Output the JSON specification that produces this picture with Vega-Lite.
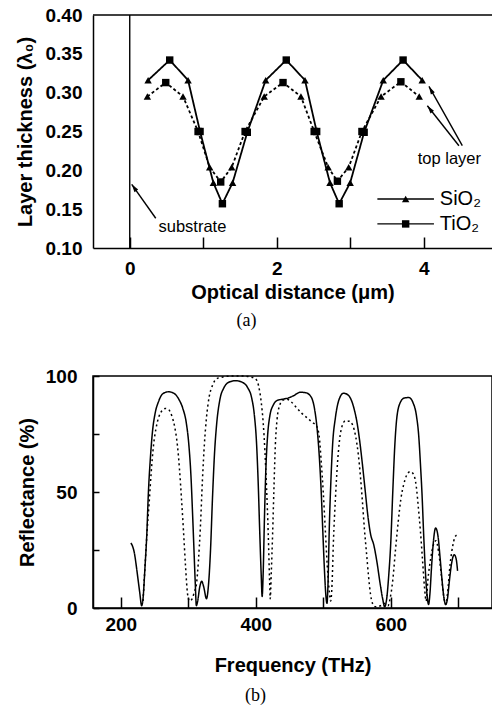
{
  "$schema": "https://vega.github.io/schema/vega-lite/v6.json",
  "padding": {"left": 15, "top": 6, "right": 0, "bottom": 0},
  "background": "white",
  "config": {
    "font": "Liberation Sans",
    "view": {"stroke": null},
    "axis": {
      "domainColor": "black", "domainWidth": 1.5, "tickColor": "black", "tickWidth": 1.5,
      "labelColor": "black", "titleColor": "black", "labelFont": "Liberation Sans", "titleFont": "Liberation Sans",
      "labelFontWeight": "bold", "titleFontWeight": "bold", "labelFontSize": 19, "titleFontSize": 20, "grid": false
    }
  },
  "columns": 1,
  "align": "none",
  "spacing": 36,
  "resolve": {"scale": {"strokeDash": "independent", "shape": "independent"}},
  "concat": [
    {
      "width": 399,
      "height": 233,
      "title": {"text": "(a)", "orient": "bottom", "font": "Liberation Serif", "fontSize": 18, "fontWeight": "normal", "color": "black", "offset": 10, "dx": -46},
      "encoding": {
        "x": {"field": "x", "type": "quantitative", "scale": {"domain": [-0.5, 4.93], "nice": false, "zero": false},
          "axis": {"title": "Optical distance (μm)", "values": [0, 1, 2, 3, 4], "labelExpr": "datum.value % 2 === 0 ? datum.label : ''", "tickSize": -11, "labelPadding": 22, "titlePadding": 4, "labelFlush": false}},
        "y": {"field": "y", "type": "quantitative", "scale": {"domain": [0.1, 0.4], "nice": false, "zero": false},
          "axis": {"title": "Layer thickness (λ₀)", "values": [0.1, 0.15, 0.2, 0.25, 0.3, 0.35, 0.4], "format": ".2f", "ticks": false, "labelPadding": 11, "titlePadding": 10}}
      },
      "layer": [
        {
          "data": {"values": [
            {"x": 0, "x2": 0, "y": 0.1, "y2": 0.4},
            {"x": -0.5, "x2": 4.93, "y": 0.4, "y2": 0.4},
            {"x": 3.37, "x2": 4.14, "y": 0.163, "y2": 0.163},
            {"x": 3.37, "x2": 4.14, "y": 0.131, "y2": 0.131},
            {"x": 0.354, "x2": 0.027, "y": 0.1383, "y2": 0.182},
            {"x": 4.526, "x2": 4.072, "y": 0.2317, "y2": 0.308},
            {"x": 4.48, "x2": 4.05, "y": 0.2317, "y2": 0.2832}
          ]},
          "mark": {"type": "rule", "color": "black", "strokeWidth": 1.4},
          "encoding": {"x2": {"field": "x2"}, "y2": {"field": "y2"}}
        },
        {
          "data": {"values": [
            {"d": "solid", "m": "SiO₂", "x": 0.25, "y": 0.316},
            {"d": "solid", "m": "TiO₂", "x": 0.544, "y": 0.342},
            {"d": "solid", "m": "SiO₂", "x": 0.794, "y": 0.316},
            {"d": "solid", "m": "TiO₂", "x": 0.957, "y": 0.25},
            {"d": "solid", "m": "SiO₂", "x": 1.138, "y": 0.184},
            {"d": "solid", "m": "TiO₂", "x": 1.261, "y": 0.157},
            {"d": "solid", "m": "SiO₂", "x": 1.4, "y": 0.184},
            {"d": "solid", "m": "TiO₂", "x": 1.6, "y": 0.249},
            {"d": "solid", "m": "SiO₂", "x": 1.85, "y": 0.316},
            {"d": "solid", "m": "TiO₂", "x": 2.13, "y": 0.342},
            {"d": "solid", "m": "SiO₂", "x": 2.385, "y": 0.316},
            {"d": "solid", "m": "TiO₂", "x": 2.544, "y": 0.25},
            {"d": "solid", "m": "SiO₂", "x": 2.725, "y": 0.184},
            {"d": "solid", "m": "TiO₂", "x": 2.85, "y": 0.157},
            {"d": "solid", "m": "SiO₂", "x": 3.0, "y": 0.184},
            {"d": "solid", "m": "TiO₂", "x": 3.19, "y": 0.249},
            {"d": "solid", "m": "SiO₂", "x": 3.45, "y": 0.316},
            {"d": "solid", "m": "TiO₂", "x": 3.72, "y": 0.342},
            {"d": "solid", "m": "SiO₂", "x": 3.98, "y": 0.316},
            {"d": "dashed", "m": "SiO₂", "x": 0.24, "y": 0.295},
            {"d": "dashed", "m": "TiO₂", "x": 0.49, "y": 0.313},
            {"d": "dashed", "m": "SiO₂", "x": 0.725, "y": 0.295},
            {"d": "dashed", "m": "TiO₂", "x": 0.93, "y": 0.25},
            {"d": "dashed", "m": "SiO₂", "x": 1.088, "y": 0.204},
            {"d": "dashed", "m": "TiO₂", "x": 1.238, "y": 0.185},
            {"d": "dashed", "m": "SiO₂", "x": 1.388, "y": 0.204},
            {"d": "dashed", "m": "TiO₂", "x": 1.57, "y": 0.25},
            {"d": "dashed", "m": "SiO₂", "x": 1.83, "y": 0.295},
            {"d": "dashed", "m": "TiO₂", "x": 2.086, "y": 0.313},
            {"d": "dashed", "m": "SiO₂", "x": 2.33, "y": 0.295},
            {"d": "dashed", "m": "TiO₂", "x": 2.51, "y": 0.25},
            {"d": "dashed", "m": "SiO₂", "x": 2.7, "y": 0.204},
            {"d": "dashed", "m": "TiO₂", "x": 2.826, "y": 0.186},
            {"d": "dashed", "m": "SiO₂", "x": 2.98, "y": 0.204},
            {"d": "dashed", "m": "TiO₂", "x": 3.16, "y": 0.25},
            {"d": "dashed", "m": "SiO₂", "x": 3.42, "y": 0.295},
            {"d": "dashed", "m": "TiO₂", "x": 3.69, "y": 0.314},
            {"d": "dashed", "m": "SiO₂", "x": 3.94, "y": 0.295}
          ]},
          "layer": [
            {
              "mark": {"type": "line", "color": "black", "strokeWidth": 1.8},
              "encoding": {
                "detail": {"field": "d"},
                "strokeDash": {"field": "d", "type": "nominal", "scale": {"domain": ["solid", "dashed"], "range": [[1, 0], [3, 2.5]]}, "legend": null}
              }
            },
            {
              "mark": {"type": "point", "filled": true, "color": "black", "opacity": 1, "size": 55},
              "encoding": {
                "shape": {"field": "m", "type": "nominal", "scale": {"domain": ["SiO₂", "TiO₂"], "range": ["triangle-up", "square"]}, "legend": null}
              }
            }
          ]
        },
        {
          "data": {"values": [
            {"m": "SiO₂", "x": 3.755, "y": 0.163},
            {"m": "TiO₂", "x": 3.755, "y": 0.131}
          ]},
          "mark": {"type": "point", "filled": true, "color": "black", "opacity": 1, "size": 55},
          "encoding": {
            "shape": {"field": "m", "type": "nominal", "scale": {"domain": ["SiO₂", "TiO₂"], "range": ["triangle-up", "square"]}, "legend": null}
          }
        },
        {
          "data": {"values": [
            {"t": "SiO₂", "x": 4.22, "y": 0.163},
            {"t": "TiO₂", "x": 4.22, "y": 0.131}
          ]},
          "mark": {"type": "text", "align": "left", "baseline": "middle", "fontSize": 20, "color": "black", "font": "Liberation Sans"},
          "encoding": {"text": {"field": "t"}}
        },
        {
          "data": {"values": [
            {"t": "substrate", "x": 0.853, "y": 0.1267},
            {"t": "top layer", "x": 4.35, "y": 0.2146}
          ]},
          "mark": {"type": "text", "align": "center", "baseline": "middle", "fontSize": 16.5, "color": "black", "font": "Liberation Sans"},
          "encoding": {"text": {"field": "t"}}
        },
        {
          "data": {"values": [{"x": 0.027, "y": 0.182}]},
          "mark": {"type": "point", "shape": "M0,0L-0.28,1L0.28,1Z", "size": 256, "filled": true, "color": "black", "opacity": 1, "angle": 325}
        },
        {
          "data": {"values": [{"x": 4.072, "y": 0.308}]},
          "mark": {"type": "point", "shape": "M0,0L-0.28,1L0.28,1Z", "size": 256, "filled": true, "color": "black", "opacity": 1, "angle": 331}
        },
        {
          "data": {"values": [{"x": 4.05, "y": 0.2832}]},
          "mark": {"type": "point", "shape": "M0,0L-0.28,1L0.28,1Z", "size": 256, "filled": true, "color": "black", "opacity": 1, "angle": 322}
        }
      ]
    },
    {
      "width": 399,
      "height": 232,
      "view": {"stroke": "black", "strokeWidth": 1.5},
      "title": {"text": "(b)", "orient": "bottom", "font": "Liberation Serif", "fontSize": 18, "fontWeight": "normal", "color": "black", "offset": 12, "dx": -37},
      "data": {"values": [
        {"d": "solid", "f": 215, "r": 28}, {"d": "solid", "f": 217, "r": 27}, {"d": "solid", "f": 220, "r": 24},
        {"d": "solid", "f": 224, "r": 16}, {"d": "solid", "f": 228, "r": 7}, {"d": "solid", "f": 231, "r": 1},
        {"d": "solid", "f": 233, "r": 4}, {"d": "solid", "f": 236, "r": 18}, {"d": "solid", "f": 238.5, "r": 31},
        {"d": "solid", "f": 241, "r": 50}, {"d": "solid", "f": 244, "r": 65}, {"d": "solid", "f": 247, "r": 76},
        {"d": "solid", "f": 251, "r": 84}, {"d": "solid", "f": 256, "r": 89}, {"d": "solid", "f": 263, "r": 92.5},
        {"d": "solid", "f": 271, "r": 93.2}, {"d": "solid", "f": 279, "r": 92.5}, {"d": "solid", "f": 286, "r": 90},
        {"d": "solid", "f": 292, "r": 86}, {"d": "solid", "f": 297, "r": 80}, {"d": "solid", "f": 301, "r": 70},
        {"d": "solid", "f": 304, "r": 57}, {"d": "solid", "f": 306.5, "r": 40}, {"d": "solid", "f": 308.5, "r": 25},
        {"d": "solid", "f": 310.5, "r": 10}, {"d": "solid", "f": 312, "r": 1}, {"d": "solid", "f": 314, "r": 3},
        {"d": "solid", "f": 317, "r": 9}, {"d": "solid", "f": 320, "r": 11.5}, {"d": "solid", "f": 323, "r": 9},
        {"d": "solid", "f": 327, "r": 4}, {"d": "solid", "f": 330, "r": 10}, {"d": "solid", "f": 333, "r": 25},
        {"d": "solid", "f": 336, "r": 48}, {"d": "solid", "f": 339, "r": 67}, {"d": "solid", "f": 342, "r": 79},
        {"d": "solid", "f": 347, "r": 90}, {"d": "solid", "f": 353, "r": 95}, {"d": "solid", "f": 360, "r": 97.3},
        {"d": "solid", "f": 370, "r": 98}, {"d": "solid", "f": 380, "r": 97.3}, {"d": "solid", "f": 388, "r": 95},
        {"d": "solid", "f": 394, "r": 90.5}, {"d": "solid", "f": 398, "r": 83}, {"d": "solid", "f": 401, "r": 72},
        {"d": "solid", "f": 403.5, "r": 55}, {"d": "solid", "f": 406, "r": 32}, {"d": "solid", "f": 408, "r": 15},
        {"d": "solid", "f": 409.5, "r": 5}, {"d": "solid", "f": 411, "r": 15}, {"d": "solid", "f": 413, "r": 40},
        {"d": "solid", "f": 415, "r": 60}, {"d": "solid", "f": 417.5, "r": 74}, {"d": "solid", "f": 421, "r": 83},
        {"d": "solid", "f": 426, "r": 87.5}, {"d": "solid", "f": 432, "r": 89.5}, {"d": "solid", "f": 440, "r": 90},
        {"d": "solid", "f": 448, "r": 90.5}, {"d": "solid", "f": 456, "r": 91.5}, {"d": "solid", "f": 466, "r": 93},
        {"d": "solid", "f": 474, "r": 92.8}, {"d": "solid", "f": 482, "r": 91}, {"d": "solid", "f": 487, "r": 86},
        {"d": "solid", "f": 491, "r": 77}, {"d": "solid", "f": 494, "r": 66}, {"d": "solid", "f": 497, "r": 50},
        {"d": "solid", "f": 499.5, "r": 32}, {"d": "solid", "f": 502, "r": 15}, {"d": "solid", "f": 504, "r": 5},
        {"d": "solid", "f": 505.5, "r": 2}, {"d": "solid", "f": 507, "r": 10}, {"d": "solid", "f": 509, "r": 35},
        {"d": "solid", "f": 511.5, "r": 56}, {"d": "solid", "f": 514, "r": 71}, {"d": "solid", "f": 518, "r": 82},
        {"d": "solid", "f": 523, "r": 89.5}, {"d": "solid", "f": 530, "r": 92.6}, {"d": "solid", "f": 536, "r": 92},
        {"d": "solid", "f": 541, "r": 90}, {"d": "solid", "f": 546, "r": 85.5}, {"d": "solid", "f": 550, "r": 80},
        {"d": "solid", "f": 554, "r": 72}, {"d": "solid", "f": 558, "r": 62}, {"d": "solid", "f": 562, "r": 51},
        {"d": "solid", "f": 566, "r": 40}, {"d": "solid", "f": 570, "r": 32}, {"d": "solid", "f": 575, "r": 27},
        {"d": "solid", "f": 580, "r": 19}, {"d": "solid", "f": 584, "r": 11}, {"d": "solid", "f": 588, "r": 4},
        {"d": "solid", "f": 591, "r": 0.5}, {"d": "solid", "f": 594, "r": 4}, {"d": "solid", "f": 597, "r": 14},
        {"d": "solid", "f": 600, "r": 28}, {"d": "solid", "f": 603, "r": 50}, {"d": "solid", "f": 606, "r": 70},
        {"d": "solid", "f": 609, "r": 82}, {"d": "solid", "f": 614, "r": 88.5}, {"d": "solid", "f": 620, "r": 90.5},
        {"d": "solid", "f": 627, "r": 90.7}, {"d": "solid", "f": 633, "r": 88.5}, {"d": "solid", "f": 638, "r": 83},
        {"d": "solid", "f": 641.5, "r": 74}, {"d": "solid", "f": 644, "r": 62}, {"d": "solid", "f": 646.5, "r": 48},
        {"d": "solid", "f": 649, "r": 30}, {"d": "solid", "f": 651.5, "r": 15}, {"d": "solid", "f": 654, "r": 5},
        {"d": "solid", "f": 656, "r": 1.5}, {"d": "solid", "f": 658, "r": 6}, {"d": "solid", "f": 660.5, "r": 18},
        {"d": "solid", "f": 663, "r": 28}, {"d": "solid", "f": 666.5, "r": 34.5}, {"d": "solid", "f": 670, "r": 31},
        {"d": "solid", "f": 673, "r": 22}, {"d": "solid", "f": 676, "r": 12}, {"d": "solid", "f": 679, "r": 4},
        {"d": "solid", "f": 681.5, "r": 1.5}, {"d": "solid", "f": 684, "r": 4}, {"d": "solid", "f": 687, "r": 12},
        {"d": "solid", "f": 690, "r": 19}, {"d": "solid", "f": 694, "r": 23}, {"d": "solid", "f": 697, "r": 21},
        {"d": "solid", "f": 699, "r": 16},
        {"d": "dotted", "f": 233, "r": 3}, {"d": "dotted", "f": 236, "r": 18}, {"d": "dotted", "f": 239, "r": 33},
        {"d": "dotted", "f": 242, "r": 45}, {"d": "dotted", "f": 245, "r": 58}, {"d": "dotted", "f": 248.5, "r": 70},
        {"d": "dotted", "f": 252, "r": 77}, {"d": "dotted", "f": 256, "r": 82}, {"d": "dotted", "f": 261, "r": 85},
        {"d": "dotted", "f": 266, "r": 86}, {"d": "dotted", "f": 271, "r": 85.5}, {"d": "dotted", "f": 276, "r": 82.5},
        {"d": "dotted", "f": 280, "r": 78}, {"d": "dotted", "f": 284, "r": 70}, {"d": "dotted", "f": 287, "r": 60},
        {"d": "dotted", "f": 290, "r": 47}, {"d": "dotted", "f": 293, "r": 33}, {"d": "dotted", "f": 296, "r": 18},
        {"d": "dotted", "f": 299, "r": 6}, {"d": "dotted", "f": 302, "r": 3}, {"d": "dotted", "f": 306, "r": 4},
        {"d": "dotted", "f": 309, "r": 7}, {"d": "dotted", "f": 312, "r": 10}, {"d": "dotted", "f": 315, "r": 20},
        {"d": "dotted", "f": 318, "r": 35}, {"d": "dotted", "f": 321, "r": 55}, {"d": "dotted", "f": 324, "r": 71},
        {"d": "dotted", "f": 327, "r": 82}, {"d": "dotted", "f": 331, "r": 91}, {"d": "dotted", "f": 336, "r": 96},
        {"d": "dotted", "f": 342, "r": 98.8}, {"d": "dotted", "f": 350, "r": 99.5}, {"d": "dotted", "f": 365, "r": 100},
        {"d": "dotted", "f": 380, "r": 100}, {"d": "dotted", "f": 392, "r": 99.6}, {"d": "dotted", "f": 399, "r": 99},
        {"d": "dotted", "f": 404, "r": 96}, {"d": "dotted", "f": 408, "r": 89}, {"d": "dotted", "f": 411, "r": 80},
        {"d": "dotted", "f": 413.5, "r": 68}, {"d": "dotted", "f": 416, "r": 52}, {"d": "dotted", "f": 418.5, "r": 32},
        {"d": "dotted", "f": 420.5, "r": 12}, {"d": "dotted", "f": 421.5, "r": 4}, {"d": "dotted", "f": 423, "r": 15},
        {"d": "dotted", "f": 425, "r": 32}, {"d": "dotted", "f": 427, "r": 52}, {"d": "dotted", "f": 429, "r": 70},
        {"d": "dotted", "f": 431.5, "r": 81}, {"d": "dotted", "f": 435, "r": 87}, {"d": "dotted", "f": 440, "r": 89.5},
        {"d": "dotted", "f": 446, "r": 90}, {"d": "dotted", "f": 452, "r": 89}, {"d": "dotted", "f": 460, "r": 86.5},
        {"d": "dotted", "f": 468, "r": 84}, {"d": "dotted", "f": 476, "r": 82}, {"d": "dotted", "f": 484, "r": 80},
        {"d": "dotted", "f": 490, "r": 78.5}, {"d": "dotted", "f": 494, "r": 74}, {"d": "dotted", "f": 497, "r": 63},
        {"d": "dotted", "f": 500, "r": 50}, {"d": "dotted", "f": 503, "r": 34}, {"d": "dotted", "f": 506, "r": 18},
        {"d": "dotted", "f": 509, "r": 7}, {"d": "dotted", "f": 511, "r": 3}, {"d": "dotted", "f": 513, "r": 10},
        {"d": "dotted", "f": 515, "r": 28}, {"d": "dotted", "f": 518, "r": 47}, {"d": "dotted", "f": 521, "r": 62},
        {"d": "dotted", "f": 524, "r": 72}, {"d": "dotted", "f": 528, "r": 78.5}, {"d": "dotted", "f": 533, "r": 80.7},
        {"d": "dotted", "f": 539, "r": 80.5}, {"d": "dotted", "f": 544, "r": 78.5}, {"d": "dotted", "f": 548, "r": 74},
        {"d": "dotted", "f": 552, "r": 66}, {"d": "dotted", "f": 555, "r": 57}, {"d": "dotted", "f": 558, "r": 46},
        {"d": "dotted", "f": 561, "r": 34}, {"d": "dotted", "f": 564, "r": 24}, {"d": "dotted", "f": 567, "r": 14},
        {"d": "dotted", "f": 570, "r": 6}, {"d": "dotted", "f": 573, "r": 2}, {"d": "dotted", "f": 578, "r": 0.5},
        {"d": "dotted", "f": 585, "r": 1}, {"d": "dotted", "f": 592, "r": 2}, {"d": "dotted", "f": 596, "r": 1},
        {"d": "dotted", "f": 599, "r": 4}, {"d": "dotted", "f": 603, "r": 12}, {"d": "dotted", "f": 607, "r": 25},
        {"d": "dotted", "f": 611, "r": 37}, {"d": "dotted", "f": 615, "r": 47}, {"d": "dotted", "f": 619, "r": 53},
        {"d": "dotted", "f": 624, "r": 57.5}, {"d": "dotted", "f": 629, "r": 58.8}, {"d": "dotted", "f": 634, "r": 57.5},
        {"d": "dotted", "f": 638, "r": 52}, {"d": "dotted", "f": 641, "r": 43}, {"d": "dotted", "f": 644, "r": 33},
        {"d": "dotted", "f": 647, "r": 21}, {"d": "dotted", "f": 650, "r": 9}, {"d": "dotted", "f": 652.5, "r": 3},
        {"d": "dotted", "f": 655, "r": 12}, {"d": "dotted", "f": 659, "r": 21}, {"d": "dotted", "f": 663, "r": 27},
        {"d": "dotted", "f": 667, "r": 29}, {"d": "dotted", "f": 671, "r": 24}, {"d": "dotted", "f": 675, "r": 14},
        {"d": "dotted", "f": 679, "r": 4}, {"d": "dotted", "f": 681.5, "r": 1.5}, {"d": "dotted", "f": 684, "r": 6},
        {"d": "dotted", "f": 688, "r": 19}, {"d": "dotted", "f": 692, "r": 27}, {"d": "dotted", "f": 695, "r": 30.5},
        {"d": "dotted", "f": 698, "r": 31.5}
      ]},
      "mark": {"type": "line", "interpolate": "monotone", "strokeWidth": 1.5, "color": "black"},
      "encoding": {
        "x": {"field": "f", "type": "quantitative", "scale": {"domain": [158.9, 750], "nice": false, "zero": false},
          "axis": {"title": "Frequency (THz)", "values": [200, 300, 400, 500, 600, 700], "labelExpr": "datum.value % 200 === 0 ? datum.label : ''", "tickSize": -11, "labelPadding": 18, "titlePadding": 21, "labelFlush": false}},
        "y": {"field": "r", "type": "quantitative", "scale": {"domain": [0, 100], "nice": false, "zero": false},
          "axis": {"title": "Reflectance (%)", "values": [0, 25, 50, 75, 100], "labelExpr": "datum.value % 50 === 0 ? datum.label : ''", "tickSize": -6, "labelPadding": 22, "titlePadding": 8}},
        "detail": {"field": "d"},
        "strokeDash": {"field": "d", "type": "nominal", "scale": {"domain": ["solid", "dotted"], "range": [[1, 0], [2, 3]]}, "legend": null}
      }
    }
  ]
}
